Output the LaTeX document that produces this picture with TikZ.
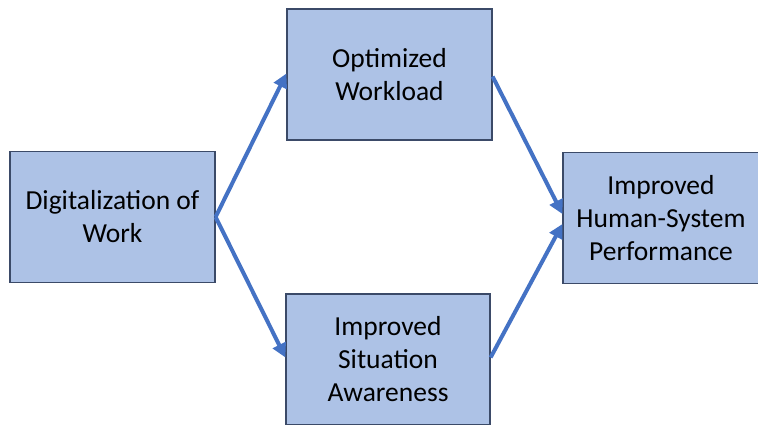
\documentclass[tikz,border=0pt]{standalone}
\usepackage{fontspec}
\setmainfont{Carlito}
\usetikzlibrary{arrows.meta}
\definecolor{boxfill}{HTML}{ADC2E6}
\definecolor{boxedge}{HTML}{3B4A68}
\definecolor{arrowblue}{HTML}{4472C4}
\tikzset{
  box/.style={draw=boxedge, line width=1.2pt, fill=boxfill, minimum width=#1, minimum height=131pt,
    align=center, font=\fontsize{27.5}{33}\selectfont, inner sep=0pt},
  conn/.style={draw=arrowblue, line width=4pt, -{Triangle[length=14pt,width=14pt]}, shorten >=0pt}
}
\begin{document}
\begin{tikzpicture}[x=1pt,y=1pt]
\useasboundingbox (0,0) rectangle (758,424);
\begin{scope}
\clip (0,0) rectangle (758,424);
\node[box=205pt] (dig) at (112.5,207) {Digitalization of\\Work};
\node[box=205pt] (opt) at (389.5,349.5) {Optimized\\Workload};
\node[box=204pt] (sit) at (388,64.5) {Improved\\Situation\\Awareness};
\node[box=196pt] (hum) at (661,206) {Improved\\Human-System\\Performance};
\end{scope}
\coordinate (d1) at ([yshift=0pt]dig.east);
\draw[conn] (d1) -- ([yshift=1pt]opt.west);
\draw[conn] (d1) -- ([yshift=2pt]sit.west);
\draw[conn] ([yshift=-2pt]opt.east) -- ([yshift=4pt]hum.west);
\draw[conn] ([yshift=2pt]sit.east) -- ([yshift=-6pt]hum.west);
\end{tikzpicture}
\end{document}
